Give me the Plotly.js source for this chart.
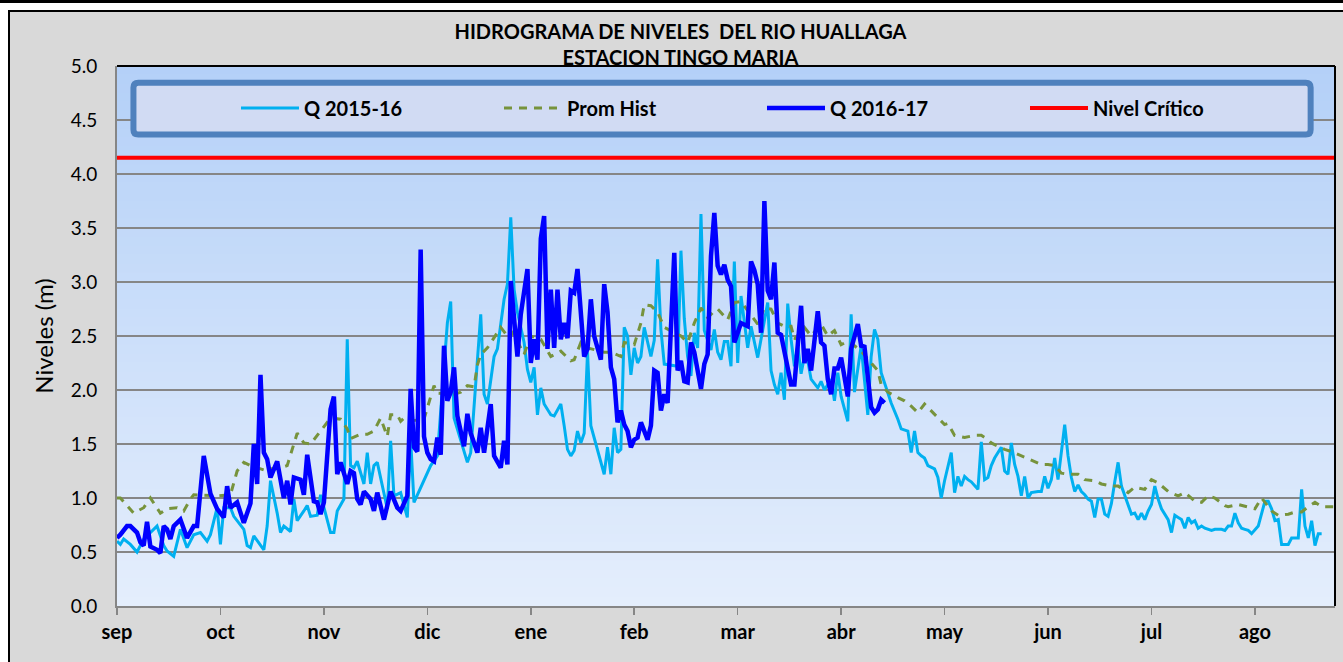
<!DOCTYPE html>
<html>
<head>
<meta charset="utf-8">
<script src="https://cdn.plot.ly/plotly-3.0.1.min.js"></script>
<style>
  html, body { margin: 0; padding: 0; background: #ffffff; width: 1343px; height: 662px; overflow: hidden; }
  #band { position: absolute; left: 0; top: 0; width: 1343px; height: 3px; background: #000; }
  #chart { position: absolute; left: 8px; top: 10px; width: 1335px; height: 652px;
           border-left: 2px solid #000; border-top: 2px solid #000; box-sizing: border-box; }
</style>
</head>
<body>
<div id="band"></div>
<div id="chart"></div>
<script>
// ---- Data ----
// x = day index counted from 1 September
const monthLabels = ['sep','oct','nov','dic','ene','feb','mar','abr','may','jun','jul','ago'];
const monthTickDays = [0,31,62,93,124,155,186,217,248,279,310,341];

const daysQ1516 = [0,1,2,4,6,8,12,14,15,17,19,21,23,25,27,28,30,31,32,34,35,38,39,40,41,43,44,45,46,48,49,50,52,53,54,56,57,58,60,61,63,64,65,66,68,69,70,71,72,74,75,76,77,78,81,82,83,85,87,88,89,93,94,96,99,100,101,105,106,109,110,111,113,114,116,117,118,119,120,122,123,124,125,126,127,128,130,131,133,134,135,136,137,138,139,140,141,142,144,146,147,148,149,150,151,152,153,154,155,156,157,158,160,161,162,163,164,168,169,170,171,172,173,174,175,176,178,179,180,181,182,183,184,185,186,187,189,190,192,195,196,197,198,199,200,201,202,203,204,205,206,207,208,210,211,212,214,215,216,217,219,220,221,223,225,226,227,228,229,231,232,234,235,237,238,239,240,241,242,243,245,246,247,248,250,251,252,253,254,255,256,258,259,260,261,262,263,265,266,267,268,269,270,271,272,273,274,276,277,278,279,280,281,282,284,285,286,287,288,289,290,291,292,293,294,295,296,297,298,299,300,301,302,303,304,305,306,307,308,309,310,311,312,313,315,316,317,318,319,320,321,322,323,324,325,326,328,329,331,332,333,334,335,336,337,338,339,340,341,342,344,345,346,347,348,349,351,352,354,355,356,357,358,359,360,361];
const q1516 = [0.60,0.57,0.62,0.57,0.50,0.62,0.74,0.56,0.51,0.46,0.71,0.54,0.66,0.68,0.60,0.66,0.91,0.57,0.91,0.91,0.83,0.71,0.56,0.54,0.65,0.56,0.52,0.74,1.16,0.86,0.68,0.74,0.69,0.99,0.79,0.88,0.93,0.83,0.84,1.03,0.79,0.68,0.68,0.88,0.99,2.47,1.30,1.28,1.34,1.13,1.42,1.13,1.30,1.33,0.90,1.53,1.02,1.05,0.82,1.54,0.96,1.23,1.30,1.39,2.62,2.82,1.74,1.33,1.42,2.70,1.96,1.87,2.31,2.38,2.84,2.98,3.60,2.93,2.72,2.44,2.19,2.07,2.21,1.77,2.02,1.87,1.77,1.76,1.87,1.67,1.45,1.39,1.44,1.62,1.51,1.60,2.35,1.67,1.44,1.22,1.47,1.22,1.65,1.42,1.45,2.58,2.50,2.14,2.39,2.25,2.31,2.58,2.31,2.46,3.21,2.56,2.24,2.22,3.29,2.66,2.31,2.13,2.53,2.39,3.63,2.55,2.37,2.56,2.35,2.28,2.45,2.45,2.22,3.19,2.25,2.87,2.39,2.59,2.30,2.81,2.18,2.05,1.96,2.16,1.91,2.80,2.47,2.22,2.41,2.15,2.31,2.27,2.10,2.02,2.08,2.00,2.10,1.90,2.16,1.94,1.71,2.70,1.98,2.41,1.77,2.31,2.56,2.47,2.16,1.98,1.88,1.73,1.64,1.62,1.42,1.62,1.42,1.39,1.37,1.30,1.27,1.19,1.00,1.16,1.42,1.05,1.20,1.11,1.20,1.17,1.15,1.08,1.52,1.17,1.19,1.30,1.37,1.47,1.25,1.22,1.51,1.31,1.20,1.02,1.20,1.00,1.05,1.06,1.06,1.20,1.09,1.17,1.37,1.17,1.68,1.39,1.19,1.06,1.12,1.06,1.03,0.99,0.97,0.82,0.99,0.99,0.85,0.83,0.95,1.15,1.33,1.11,1.02,0.93,0.85,0.86,0.80,0.86,0.80,0.88,0.94,1.11,0.99,0.90,0.80,0.68,0.84,0.82,0.80,0.72,0.82,0.77,0.79,0.72,0.74,0.72,0.70,0.71,0.71,0.70,0.74,0.74,0.86,0.77,0.72,0.71,0.70,0.67,0.71,0.74,0.97,0.97,0.90,0.79,0.80,0.57,0.57,0.63,0.63,1.08,0.74,0.63,0.79,0.56,0.67,0.67];

const daysProm = [0,1,5,8,10,13,15,18,20,22,23,30,34,36,38,40,44,46,48,51,54,56,58,60,63,64,67,69,70,73,75,77,79,81,82,84,85,86,87,92,95,96,101,103,105,107,108,109,111,115,117,118,120,122,124,127,130,133,136,137,139,141,146,148,151,152,155,157,158,160,162,164,169,171,173,175,177,179,180,183,185,187,192,194,196,198,200,202,203,206,208,211,213,215,217,219,221,223,226,228,229,231,234,236,238,240,242,245,248,249,251,254,257,259,261,262,264,266,268,271,275,277,279,281,283,285,288,290,293,295,298,300,303,305,308,310,312,315,318,320,323,325,327,329,332,333,336,341,343,346,348,351,353,355,357,359,361,364,365];
const promHist = [1.00,1.00,0.86,0.91,1.00,0.86,0.90,0.91,0.88,0.99,1.03,1.02,1.03,1.25,1.33,1.30,1.26,1.27,1.27,1.30,1.60,1.51,1.50,1.58,1.70,1.74,1.73,1.64,1.55,1.59,1.59,1.62,1.74,1.57,1.77,1.77,1.71,1.74,1.71,1.73,2.04,1.97,1.96,1.98,2.04,2.03,2.23,2.33,2.39,2.58,2.50,2.55,2.45,2.33,2.50,2.47,2.31,2.36,2.27,2.28,2.44,2.39,2.35,2.35,2.31,2.44,2.42,2.62,2.79,2.78,2.72,2.58,2.50,2.44,2.62,2.76,2.67,2.73,2.75,2.65,2.81,2.82,2.61,2.76,2.75,2.62,2.59,2.59,2.47,2.58,2.50,2.61,2.50,2.55,2.42,2.45,2.41,2.36,2.25,2.18,2.05,1.98,1.93,1.90,1.85,1.79,1.87,1.77,1.68,1.69,1.58,1.56,1.58,1.58,1.54,1.51,1.48,1.45,1.43,1.39,1.34,1.31,1.31,1.30,1.23,1.22,1.22,1.17,1.16,1.13,1.11,1.11,1.05,1.10,1.08,1.17,1.14,1.06,1.02,1.05,0.97,0.96,1.02,1.00,0.93,0.92,0.94,0.90,1.00,0.88,0.84,0.85,0.87,0.87,0.92,0.96,0.92,0.92,0.92];

const daysQ1617 = [0,1,3,4,6,7,8,9,10,12,13,14,15,16,17,19,21,23,24,26,28,30,32,33,34,36,38,40,41,42,43,44,45,46,48,50,51,52,53,55,56,57,59,60,61,62,64,65,66,67,69,70,71,72,73,74,76,77,78,79,80,82,84,85,87,88,89,90,91,92,93,94,95,96,97,98,99,100,101,102,104,105,106,108,109,110,112,113,115,116,117,118,120,121,123,124,125,126,127,128,129,130,131,132,133,134,135,136,137,138,139,140,141,142,143,145,146,147,148,149,150,151,152,153,154,155,156,157,159,160,161,162,163,164,165,166,167,168,169,170,171,172,173,175,176,177,178,179,180,181,182,183,184,185,186,187,189,190,191,192,193,194,195,196,197,198,199,200,201,202,203,204,205,206,207,208,209,210,211,212,213,214,215,216,217,219,220,222,223,224,226,227,228,229,230];
const q1617 = [0.63,0.66,0.74,0.74,0.68,0.59,0.56,0.78,0.55,0.52,0.49,0.74,0.71,0.62,0.74,0.80,0.63,0.74,0.74,1.39,1.04,0.90,0.82,1.11,0.91,0.96,0.77,0.95,1.50,1.13,2.14,1.42,1.36,1.19,1.34,1.00,1.16,0.94,1.19,1.17,1.03,1.40,0.97,0.96,0.85,0.96,1.82,1.94,1.22,1.33,1.13,1.25,1.23,0.99,0.94,1.06,0.99,0.88,1.05,0.90,0.80,1.06,0.91,0.88,1.02,2.01,1.47,1.43,3.30,1.57,1.42,1.36,1.34,1.56,1.40,2.41,1.90,1.98,2.21,1.76,1.48,1.78,1.60,1.42,1.65,1.42,1.87,1.39,1.28,1.53,1.31,3.01,2.31,2.70,3.12,2.25,2.47,2.28,3.40,3.61,2.38,2.93,2.39,2.93,2.47,2.62,2.48,2.92,2.90,3.12,2.65,2.31,2.38,2.84,2.50,2.28,2.98,2.72,2.21,2.10,1.70,1.81,1.68,1.62,1.47,1.54,1.56,1.70,1.54,1.67,2.18,2.16,1.81,1.96,1.88,2.62,3.27,2.18,2.27,2.08,2.07,2.44,2.35,2.01,2.24,2.33,3.24,3.64,3.15,3.07,3.16,3.02,2.96,2.44,2.53,2.62,2.59,3.19,3.11,2.98,2.53,3.75,2.92,2.84,3.18,2.53,2.51,2.36,2.16,2.05,2.05,2.47,2.78,2.25,2.38,2.18,2.44,2.73,2.44,2.41,2.10,1.96,2.20,2.20,2.30,1.94,2.38,2.61,2.41,2.40,1.84,1.79,1.82,1.91,1.88];

const nivelCriticoDays = [0, 365];
const nivelCritico = [4.15, 4.15];

// ---- Styling ----
const FONT = 'Lato, "Open Sans", sans-serif';

// vertical gradient behind the plot (decoration)
const bgShapes = [];
const nBands = 60;
const gradTop = [180, 208, 248], gradBot = [228, 238, 252];
for (let i = 0; i < nBands; i++) {
  const t = i / (nBands - 1);
  const c = gradTop.map((v, k) => Math.round(v + (gradBot[k] - v) * t));
  bgShapes.push({type: 'rect', xref: 'paper', yref: 'paper', layer: 'below',
    x0: 0, x1: 1, y0: 1 - (i + 1) / nBands, y1: Math.min(1, 1 - i / nBands + 0.001),
    fillcolor: `rgb(${c[0]},${c[1]},${c[2]})`, line: {width: 0}});
}
// legend frame (rounded rectangle)
(function () {
  const x0 = 0.0135, x1 = 0.980, y0 = 0.873, y1 = 0.969;
  const rx = 0.004, ry = 0.009;
  const p = `M${x0 + rx},${y0} L${x1 - rx},${y0} Q${x1},${y0} ${x1},${y0 + ry} ` +
            `L${x1},${y1 - ry} Q${x1},${y1} ${x1 - rx},${y1} L${x0 + rx},${y1} ` +
            `Q${x0},${y1} ${x0},${y1 - ry} L${x0},${y0 + ry} Q${x0},${y0} ${x0 + rx},${y0} Z`;
  bgShapes.push({type: 'path', xref: 'paper', yref: 'paper', layer: 'above', path: p,
    fillcolor: '#d1dbf3', line: {color: '#4f81bd', width: 6}});
})();
// top/right black plot border
bgShapes.push({type: 'line', xref: 'paper', yref: 'paper', layer: 'above', x0: 0, x1: 1, y0: 1, y1: 1, line: {color: '#000', width: 2}});
bgShapes.push({type: 'line', xref: 'paper', yref: 'paper', layer: 'above', x0: 1, x1: 1, y0: 0, y1: 1, line: {color: '#000', width: 2}});

const traces = [
  {x: daysQ1516, y: q1516, name: 'Q 2015-16', type: 'scatter', mode: 'lines',
   line: {color: '#00b0f0', width: 3}},
  {x: daysProm, y: promHist, name: 'Prom Hist', type: 'scatter', mode: 'lines',
   line: {color: '#77933c', width: 3, dash: '8px,7px'}},
  {x: daysQ1617, y: q1617, name: 'Q 2016-17', type: 'scatter', mode: 'lines',
   line: {color: '#0000ff', width: 4.5}},
  {x: nivelCriticoDays, y: nivelCritico, name: 'Nivel Crítico', type: 'scatter', mode: 'lines',
   line: {color: '#ff0000', width: 4}}
];

const layout = {
  width: 1333, height: 650,
  margin: {l: 107, r: 8, t: 54, b: 56},
  paper_bgcolor: '#d9d9d9',
  plot_bgcolor: '#e3edfc',
  font: {family: FONT, color: '#000'},
  title: {
    text: 'HIDROGRAMA DE NIVELES  DEL RIO HUALLAGA<br>ESTACION TINGO MARIA',
    font: {family: FONT, size: 20, color: '#000', weight: 'bold'},
    x: 0.503, xref: 'container', xanchor: 'center',
    y: 0.958, yref: 'container', yanchor: 'top'
  },
  xaxis: {
    range: [0, 365],
    tickmode: 'array', tickvals: monthTickDays, ticktext: monthLabels,
    ticks: 'outside', ticklen: 7, tickcolor: '#868686', tickwidth: 1.5,
    showgrid: false, zeroline: false,
    showline: true, linecolor: '#868686', linewidth: 2,
    tickfont: {family: FONT, size: 20, color: '#000', weight: 'bold'},
    ticklabelstandoff: 0
  },
  yaxis: {
    range: [0, 5], dtick: 0.5, tick0: 0, tickformat: '.1f',
    showgrid: true, gridcolor: '#868686', gridwidth: 1.5,
    zeroline: false, showline: true, linecolor: '#868686', linewidth: 2,
    ticks: '', tickfont: {family: FONT, size: 19, color: '#000'},
    ticklabelstandoff: 14,
    title: {text: 'Niveles (m)', font: {family: FONT, size: 24, color: '#000'}, standoff: 10}
  },
  showlegend: true,
  legend: {
    orientation: 'h', x: 0.0977, xanchor: 'left', y: 0.922, yanchor: 'middle',
    xref: 'paper', yref: 'paper',
    bgcolor: 'rgba(0,0,0,0)', borderwidth: 0,
    itemwidth: 58, entrywidth: 190, entrywidthmode: 'pixels',
    font: {family: FONT, size: 20, color: '#000', weight: 'bold'},
    traceorder: 'normal'
  },
  shapes: bgShapes
};

Plotly.newPlot('chart', traces, layout, {staticPlot: true, displayModeBar: false});
</script>
</body>
</html>
